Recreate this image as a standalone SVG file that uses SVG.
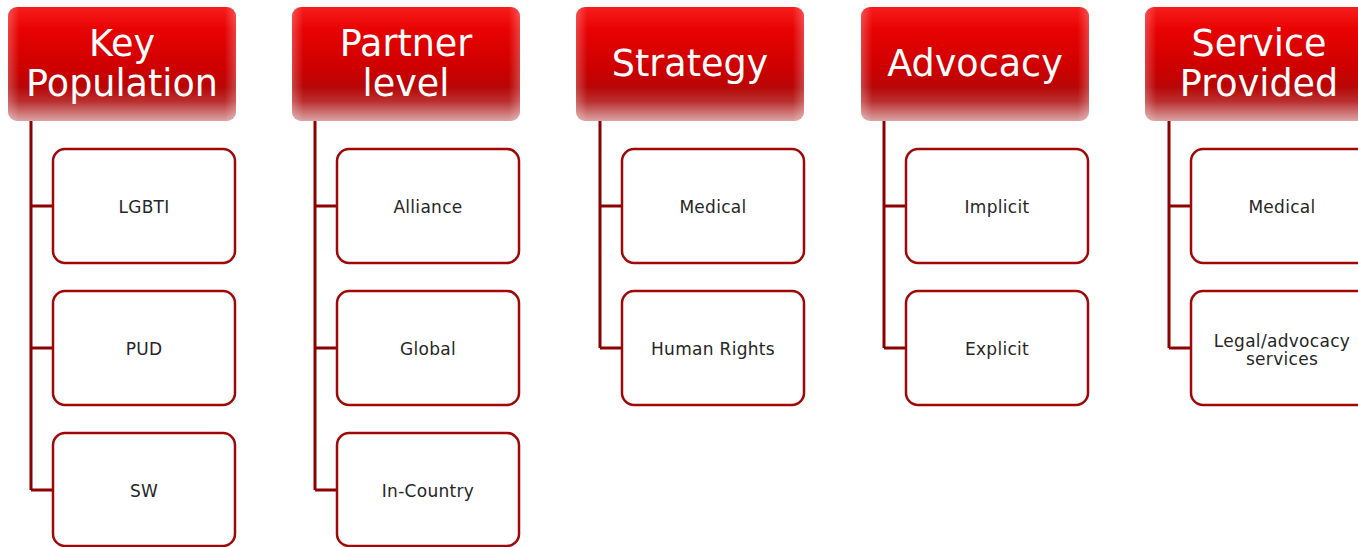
<svg xmlns="http://www.w3.org/2000/svg" width="1358" height="547" viewBox="0 0 1358 547">
<defs>
<linearGradient id="hg" x1="0" y1="0" x2="0" y2="1">
<stop offset="0" stop-color="#f71c1c"/>
<stop offset="0.2" stop-color="#e80202"/>
<stop offset="0.55" stop-color="#cc0000"/>
<stop offset="0.7" stop-color="#b80606"/>
<stop offset="0.83" stop-color="#bb3030"/>
<stop offset="1" stop-color="#dba4a4"/>
</linearGradient>
<linearGradient id="hs" x1="0" y1="0" x2="1" y2="0">
<stop offset="0" stop-color="#ffffff" stop-opacity="0.25"/>
<stop offset="0.05" stop-color="#ffffff" stop-opacity="0"/>
<stop offset="0.95" stop-color="#ffffff" stop-opacity="0"/>
<stop offset="1" stop-color="#ffffff" stop-opacity="0.25"/>
</linearGradient>
</defs>
<style>
.hb{fill:url(#hg);}
.hsd{fill:url(#hs);}
.ht{fill:#ffffff;font-family:"DejaVu Sans",sans-serif;font-size:36.5px;text-anchor:middle;}
.cb{fill:#ffffff;stroke:#a00808;stroke-width:2.5;}
.ct{fill:#262626;font-family:"DejaVu Sans",sans-serif;font-size:17px;text-anchor:middle;letter-spacing:0.3px;}
.ln{fill:none;stroke:#8b0000;stroke-width:3;}
</style>
<g id="connectors">
<path class="ln" d="M31 121V490M31 206H53M31 348H53M31 490H53"/>
<path class="ln" d="M315 121V490M315 206H337M315 348H337M315 490H337"/>
<path class="ln" d="M600 121V348M600 206H622M600 348H622"/>
<path class="ln" d="M884 121V348M884 206H906M884 348H906"/>
<path class="ln" d="M1169 121V348M1169 206H1191M1169 348H1191"/>
</g>
<g id="h1"><rect class="hb" x="8" y="7" width="228" height="114" rx="9"/><rect class="hsd" x="8" y="7" width="228" height="114" rx="9"/><text class="ht" x="122" y="56">Key</text><text class="ht" x="122" y="96">Population</text></g>
<g id="h2"><rect class="hb" x="292" y="7" width="228" height="114" rx="9"/><rect class="hsd" x="292" y="7" width="228" height="114" rx="9"/><text class="ht" x="406" y="56">Partner</text><text class="ht" x="406" y="96">level</text></g>
<g id="h3"><rect class="hb" x="576" y="7" width="228" height="114" rx="9"/><rect class="hsd" x="576" y="7" width="228" height="114" rx="9"/><text class="ht" x="690" y="76">Strategy</text></g>
<g id="h4"><rect class="hb" x="861" y="7" width="228" height="114" rx="9"/><rect class="hsd" x="861" y="7" width="228" height="114" rx="9"/><text class="ht" x="975" y="76">Advocacy</text></g>
<g id="h5"><rect class="hb" x="1145" y="7" width="228" height="114" rx="9"/><rect class="hsd" x="1145" y="7" width="228" height="114" rx="9"/><text class="ht" x="1259" y="56">Service</text><text class="ht" x="1259" y="96">Provided</text></g>
<g id="c1a"><rect class="cb" x="53" y="149" width="182" height="114" rx="12"/><text class="ct" x="144" y="213">LGBTI</text></g>
<g id="c1b"><rect class="cb" x="53" y="291" width="182" height="114" rx="12"/><text class="ct" x="144" y="355">PUD</text></g>
<g id="c1c"><rect class="cb" x="53" y="433" width="182" height="113" rx="12"/><text class="ct" x="144" y="497">SW</text></g>
<g id="c2a"><rect class="cb" x="337" y="149" width="182" height="114" rx="12"/><text class="ct" x="428" y="213">Alliance</text></g>
<g id="c2b"><rect class="cb" x="337" y="291" width="182" height="114" rx="12"/><text class="ct" x="428" y="355">Global</text></g>
<g id="c2c"><rect class="cb" x="337" y="433" width="182" height="113" rx="12"/><text class="ct" x="428" y="497">In-Country</text></g>
<g id="c3a"><rect class="cb" x="622" y="149" width="182" height="114" rx="12"/><text class="ct" x="713" y="213">Medical</text></g>
<g id="c3b"><rect class="cb" x="622" y="291" width="182" height="114" rx="12"/><text class="ct" x="713" y="355">Human Rights</text></g>
<g id="c4a"><rect class="cb" x="906" y="149" width="182" height="114" rx="12"/><text class="ct" x="997" y="213">Implicit</text></g>
<g id="c4b"><rect class="cb" x="906" y="291" width="182" height="114" rx="12"/><text class="ct" x="997" y="355">Explicit</text></g>
<g id="c5a"><rect class="cb" x="1191" y="149" width="182" height="114" rx="12"/><text class="ct" x="1282" y="213">Medical</text></g>
<g id="c5b"><rect class="cb" x="1191" y="291" width="182" height="114" rx="12"/><text class="ct" x="1282" y="347">Legal/advocacy</text><text class="ct" x="1282" y="365">services</text></g>
</svg>
